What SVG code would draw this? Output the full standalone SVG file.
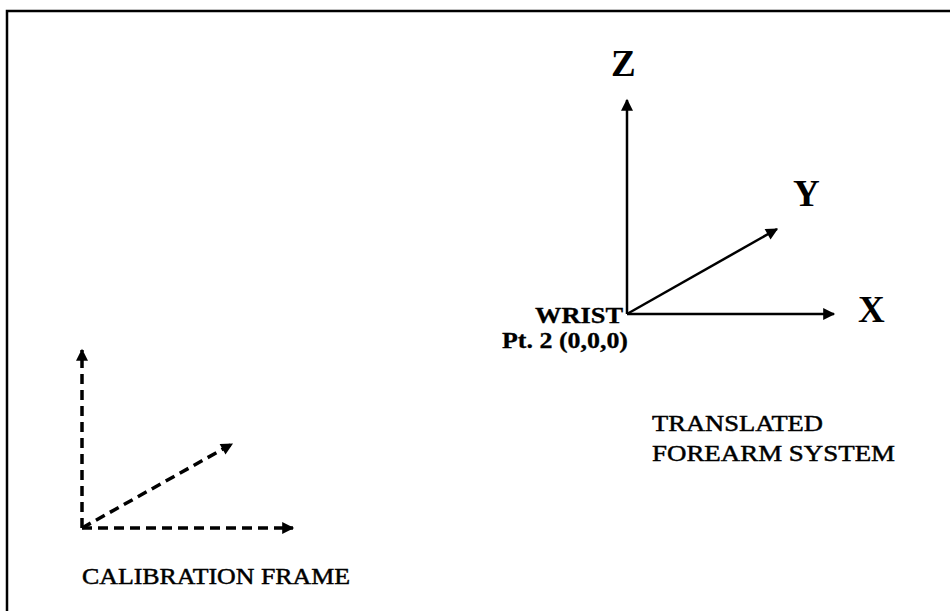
<svg xmlns="http://www.w3.org/2000/svg" width="950" height="611" viewBox="0 0 950 611">
<defs>
<style>
.t{font-family:"Liberation Serif","Times New Roman",serif;fill:#000}
.ax{font-size:37px;font-weight:bold}
.lb{font-size:24px;stroke:#000;stroke-width:0.5}
.b{font-weight:bold;stroke-width:0.3}
.solid{stroke:#000;stroke-width:2.5;fill:none}
.dash{stroke:#000;stroke-width:3.5;fill:none;stroke-dasharray:10 6}
</style>
<marker id="ah" viewBox="0 0 10 10" refX="9" refY="5" markerWidth="14" markerHeight="12" markerUnits="userSpaceOnUse" orient="auto">
<path d="M0,0 L10,5 L0,10 z" fill="#000"/>
</marker>
</defs>
<rect width="950" height="611" fill="#fff"/>
<g id="frame">
<path d="M7,611 V11 H950" stroke="#000" stroke-width="2.5" fill="none"/>
</g>
<g id="connectors">
<line class="solid" x1="627" y1="314" x2="627" y2="100" marker-end="url(#ah)"/>
<line class="solid" x1="627" y1="314" x2="834" y2="314" marker-end="url(#ah)"/>
<line class="solid" x1="627" y1="314" x2="777" y2="229" stroke-width="3" marker-end="url(#ah)"/>
<line class="dash" x1="82" y1="528" x2="82" y2="350" marker-end="url(#ah)"/>
<line class="dash" x1="82" y1="528" x2="293" y2="528" marker-end="url(#ah)"/>
<line class="dash" x1="82" y1="528" x2="232" y2="444" marker-end="url(#ah)"/>
</g>
<g id="forearm-system">
<text class="t ax" x="611" y="76">Z</text>
<text class="t ax" x="793" y="206">Y</text>
<text class="t ax" x="858" y="322">X</text>
<text class="t lb b" x="535" y="323" textLength="88" lengthAdjust="spacingAndGlyphs">WRIST</text>
<text class="t lb b" x="502" y="348" textLength="126" lengthAdjust="spacingAndGlyphs">Pt. 2 (0,0,0)</text>
<text class="t lb" x="652" y="431" textLength="171" lengthAdjust="spacingAndGlyphs">TRANSLATED</text>
<text class="t lb" x="652" y="461" textLength="243" lengthAdjust="spacingAndGlyphs">FOREARM SYSTEM</text>
</g>
<g id="calibration-frame">
<text class="t lb" x="82" y="584" textLength="268" lengthAdjust="spacingAndGlyphs">CALIBRATION FRAME</text>
</g>
</svg>
